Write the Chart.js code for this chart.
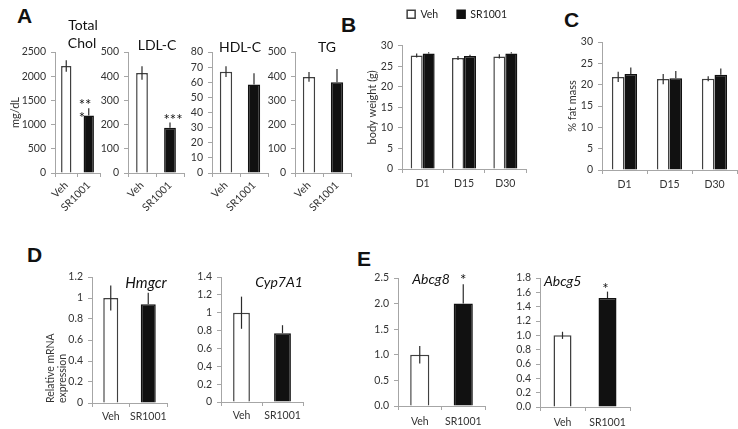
<!DOCTYPE html>
<html>
<head>
<meta charset="utf-8">
<script src="https://cdn.jsdelivr.net/npm/chart.js@4.4.0/dist/chart.umd.min.js"></script>
<style>
  body { margin: 0; width: 738px; height: 429px; position: relative; overflow: hidden; background: #fff; }
  canvas { position: absolute; }
  .panel { position: absolute; font: bold 21px Arial, "Liberation Sans", sans-serif; line-height: 1; color: #111; }
</style>
</head>
<body>
<div class="panel" style="left:17px;top:5px">A</div>
<div class="panel" style="left:341px;top:14px">B</div>
<div class="panel" style="left:564px;top:9px">C</div>
<div class="panel" style="left:27px;top:244px">D</div>
<div class="panel" style="left:357px;top:248px">E</div>

<canvas id="chol"></canvas>
<canvas id="ldl"></canvas>
<canvas id="hdl"></canvas>
<canvas id="tg"></canvas>
<canvas id="bw"></canvas>
<canvas id="fat"></canvas>
<canvas id="hmgcr"></canvas>
<canvas id="cyp"></canvas>
<canvas id="abcg8"></canvas>
<canvas id="abcg5"></canvas>

<script>
// categories
const groups = ["Veh", "SR1001"];
const days = ["D1", "D15", "D30"];

// A: plasma lipids (mg/dL), mean and error
const cholMean = [2210, 1190];
const cholErr = [120, 150];
const ldlMean = [413, 187];
const ldlErr = [28, 22];
const hdlMean = [67, 58.5];
const hdlErr = [3.5, 7.5];
const tgMean = [397, 375];
const tgErr = [20, 55];

// B: body weight (g)
const bwVeh = [27.6, 27.0, 27.4];
const bwVehErr = [0.5, 0.5, 0.5];
const bwSr = [28.1, 27.5, 28.1];
const bwSrErr = [0.3, 0.3, 0.3];

// C: % fat mass
const fatVeh = [21.8, 21.3, 21.4];
const fatVehErr = [1.2, 1.2, 0.6];
const fatSr = [22.5, 21.5, 22.3];
const fatSrErr = [1.5, 1.7, 1.5];

// D, E: relative mRNA expression
const hmgcrMean = [1.0, 0.94];
const hmgcrErr = [0.12, 0.11];
const cypMean = [1.0, 0.77];
const cypErr = [0.18, 0.09];
const abcg8Mean = [1.0, 2.0];
const abcg8Err = [0.17, 0.38];
const abcg5Mean = [1.0, 1.52];
const abcg5Err = [0.05, 0.09];

// y tick labels
const cholTicks = [0, 500, 1000, 1500, 2000, 2500];
const ldlTicks = [0, 100, 200, 300, 400, 500];
const hdlTicks = [0, 10, 20, 30, 40, 50, 60, 70, 80];
const tgTicks = [0, 100, 200, 300, 400, 500];
const bwTicks = [0, 5, 10, 15, 20, 25, 30];
const fatTicks = [0, 5, 10, 15, 20, 25, 30];
const hmgcrTicks = [0, 0.2, 0.4, 0.6, 0.8, 1, 1.2];
const cypTicks = [0, 0.2, 0.4, 0.6, 0.8, 1, 1.2, 1.4];
const abcg8Ticks = [0, 0.5, 1.0, 1.5, 2.0, 2.5];
const abcg5Ticks = [0, 0.2, 0.4, 0.6, 0.8, 1.0, 1.2, 1.4, 1.6, 1.8];

const FONT = 'Lato, "Open Sans", sans-serif';
const AXIS = '#a6a6a6';
const EDGE = '#404040';
const LIGHT = '#ffffff';
const DARK = '#111111';

Chart.defaults.font.family = FONT;
Chart.defaults.font.size = 10.5;
Chart.defaults.color = '#333';

// vertical error lines, drawn only upward on dark bars
const errorBars = {
  id: 'errorBars',
  afterDatasetsDraw(chart) {
    const ctx = chart.ctx;
    const y = chart.scales.y;
    chart.data.datasets.forEach((ds, di) => {
      chart.getDatasetMeta(di).data.forEach((bar, i) => {
        const v = ds.data[i], e = ds.err[i];
        const fill = Array.isArray(ds.backgroundColor) ? ds.backgroundColor[i] : ds.backgroundColor;
        ctx.save();
        ctx.strokeStyle = '#2b2b2b';
        ctx.lineWidth = 1.2;
        ctx.beginPath();
        ctx.moveTo(bar.x, y.getPixelForValue(fill === DARK ? v : v - e));
        ctx.lineTo(bar.x, y.getPixelForValue(v + e));
        ctx.stroke();
        ctx.restore();
      });
    });
  }
};

// panel titles and significance stars
const notes = {
  id: 'notes',
  afterDraw(chart, args, opts) {
    const ctx = chart.ctx;
    ctx.save();
    ctx.fillStyle = '#111';
    (opts.texts || []).forEach(t => {
      ctx.font = (t.italic ? 'italic ' : '') + t.size + 'px ' + FONT;
      ctx.textAlign = t.align || 'center';
      ctx.textBaseline = 'middle';
      ctx.fillText(t.text, t.x - opts.ox, t.y - opts.oy);
    });
    (opts.stars || []).forEach(s => {
      const ds = chart.data.datasets[0];
      const bar = chart.getDatasetMeta(0).data[s.index];
      const top = chart.scales.y.getPixelForValue(ds.data[s.index] + ds.err[s.index]);
      ctx.font = '15px ' + FONT;
      ctx.textAlign = s.align || 'center';
      ctx.textBaseline = 'alphabetic';
      s.lines.forEach((line, k) => ctx.fillText(line, bar.x + s.dx, top + s.dy + k * 13));
    });
    ctx.restore();
  }
};

function drawPanel(id, g, labels, datasets, ticks, extra) {
  const c = document.getElementById(id);
  const w = g.yw + (g.x1 - g.x0) + g.pr;
  const h = g.pt + (g.y1 - g.y0) + g.xh;
  c.width = w;
  c.height = h;
  c.style.left = (g.x0 - g.yw) + 'px';
  c.style.top = (g.y0 - g.pt) + 'px';
  c.style.width = w + 'px';
  c.style.height = h + 'px';

  return new Chart(c, {
    type: 'bar',
    data: { labels: labels, datasets: datasets },
    options: {
      responsive: false,
      animation: false,
      devicePixelRatio: 1,
      layout: { padding: { top: g.legend ? 0 : g.pt, right: g.pr, left: 0, bottom: 0 } },
      datasets: { bar: { categoryPercentage: g.cat, barPercentage: g.bar } },
      plugins: {
        tooltip: { enabled: false },
        legend: extra.legend || { display: false },
        title: extra.spacer || { display: false },
        notes: { ox: g.x0 - g.yw, oy: g.y0 - g.pt, texts: extra.texts, stars: extra.stars }
      },
      scales: {
        x: {
          afterFit: s => { s.height = g.xh; },
          border: { display: true, color: AXIS, width: 1 },
          grid: { display: true, offset: true, drawOnChartArea: false, drawTicks: true, tickLength: 4, color: AXIS },
          ticks: {
            color: '#333',
            padding: g.xpad,
            autoSkip: false,
            minRotation: g.rot || 0,
            maxRotation: g.rot || 0
          }
        },
        y: {
          min: 0,
          max: ticks[ticks.length - 1],
          afterFit: s => { s.width = g.yw; },
          afterBuildTicks: s => { s.ticks = ticks.map(v => ({ value: v })); },
          border: { display: true, color: AXIS, width: 1 },
          grid: { display: true, drawOnChartArea: false, drawTicks: true, tickLength: 4, color: AXIS },
          ticks: {
            color: '#333',
            padding: 5,
            autoSkip: false,
            callback: extra.fmt || (v => String(v))
          },
          title: extra.ytitle || { display: false }
        }
      }
    },
    plugins: [errorBars, notes]
  });
}

function pairSet(mean, err) {
  return [{
    data: mean,
    err: err,
    backgroundColor: [LIGHT, DARK],
    borderColor: [EDGE, DARK],
    borderWidth: 1.5
  }];
}

function daySets(veh, vehErr, sr, srErr) {
  return [
    { label: "Veh", data: veh, err: vehErr, backgroundColor: LIGHT, borderColor: EDGE, borderWidth: 1.5 },
    { label: "SR1001", data: sr, err: srErr, backgroundColor: DARK, borderColor: DARK, borderWidth: 1.5 }
  ];
}

const oneDecimal = v => v.toFixed(1);

// A
drawPanel('chol', { x0: 55, x1: 100, y0: 52, y1: 173, yw: 50, pt: 50, pr: 4, xh: 40, cat: 1, bar: 0.46, rot: 45, xpad: 2 },
  groups, pairSet(cholMean, cholErr), cholTicks, {
    ytitle: { display: true, text: 'mg/dL', color: '#333', font: { size: 11 }, padding: { top: 4, bottom: 0 } },
    texts: [
      { text: 'Total', x: 83, y: 25, size: 14 },
      { text: 'Chol', x: 82, y: 43, size: 14 }
    ],
    stars: [{ index: 1, lines: ['**', '*'], dx: -10, dy: 2, align: 'left' }]
  });

drawPanel('ldl', { x0: 128, x1: 184, y0: 52, y1: 173, yw: 30, pt: 50, pr: 4, xh: 40, cat: 1, bar: 0.42, rot: 45, xpad: 2 },
  groups, pairSet(ldlMean, ldlErr), ldlTicks, {
    texts: [{ text: 'LDL-C', x: 157, y: 45, size: 14 }],
    stars: [{ index: 1, lines: ['***'], dx: 3, dy: 3 }]
  });

drawPanel('hdl', { x0: 212, x1: 268, y0: 52, y1: 173, yw: 30, pt: 50, pr: 4, xh: 40, cat: 1, bar: 0.44, rot: 45, xpad: 2 },
  groups, pairSet(hdlMean, hdlErr), hdlTicks, {
    texts: [{ text: 'HDL-C', x: 240, y: 47, size: 14 }]
  });

drawPanel('tg', { x0: 295, x1: 351, y0: 52, y1: 173, yw: 30, pt: 50, pr: 4, xh: 40, cat: 1, bar: 0.44, rot: 45, xpad: 2 },
  groups, pairSet(tgMean, tgErr), tgTicks, {
    texts: [{ text: 'TG', x: 327, y: 47, size: 14 }]
  });

// B
drawPanel('bw', { x0: 402, x1: 526, y0: 50, y1: 169, yw: 40, pt: 60, pr: 30, xh: 30, cat: 0.58, bar: 1, xpad: 4, legend: true },
  days, daySets(bwVeh, bwVehErr, bwSr, bwSrErr), bwTicks, {
    legend: {
      display: true,
      position: 'top',
      align: 'end',
      labels: { boxWidth: 8, boxHeight: 8, padding: 19, color: '#222', font: { size: 10.5 } }
    },
    spacer: { display: true, text: '', weight: 500, font: { size: 1 }, padding: { top: 15, bottom: 0 } },
    ytitle: { display: true, text: 'body weight (g)', color: '#333', font: { size: 11 }, padding: { top: 4, bottom: 0 } }
  });

// C
drawPanel('fat', { x0: 602, x1: 737, y0: 42, y1: 170, yw: 40, pt: 40, pr: 1, xh: 30, cat: 0.56, bar: 1, xpad: 4 },
  days, daySets(fatVeh, fatVehErr, fatSr, fatSrErr), fatTicks, {
    ytitle: { display: true, text: '% fat mass', color: '#333', font: { size: 11 }, padding: { top: 4, bottom: 0 } }
  });

// D
drawPanel('hmgcr', { x0: 92, x1: 167, y0: 277, y1: 403, yw: 52, pt: 20, pr: 5, xh: 26, cat: 1, bar: 0.4, xpad: 3 },
  groups, pairSet(hmgcrMean, hmgcrErr), hmgcrTicks, {
    ytitle: { display: true, text: ['Relative mRNA', 'expression'], align: 'start', color: '#333', font: { size: 10.5 }, padding: { top: 4, bottom: 0 } },
    texts: [{ text: 'Hmgcr', x: 146, y: 283, size: 15, italic: true }]
  });

drawPanel('cyp', { x0: 221, x1: 303, y0: 277, y1: 402, yw: 35, pt: 20, pr: 5, xh: 26, cat: 1, bar: 0.41, xpad: 3 },
  groups, pairSet(cypMean, cypErr), cypTicks, {
    texts: [{ text: 'Cyp7A1', x: 279, y: 282, size: 14, italic: true }]
  });

// E
drawPanel('abcg8', { x0: 398, x1: 485, y0: 278, y1: 406, yw: 35, pt: 20, pr: 5, xh: 23, cat: 1, bar: 0.44, xpad: 5 },
  groups, pairSet(abcg8Mean, abcg8Err), abcg8Ticks, {
    fmt: oneDecimal,
    texts: [{ text: 'Abcg8', x: 431, y: 279, size: 14, italic: true }],
    stars: [{ index: 1, lines: ['*'], dx: 0, dy: 1 }]
  });

drawPanel('abcg5', { x0: 540, x1: 630, y0: 278, y1: 407, yw: 35, pt: 20, pr: 5, xh: 22, cat: 1, bar: 0.4, xpad: 5 },
  groups, pairSet(abcg5Mean, abcg5Err), abcg5Ticks, {
    fmt: oneDecimal,
    texts: [{ text: 'Abcg5', x: 544, y: 281, size: 14, italic: true, align: 'left' }],
    stars: [{ index: 1, lines: ['*'], dx: -2, dy: 2 }]
  });
</script>
</body>
</html>
